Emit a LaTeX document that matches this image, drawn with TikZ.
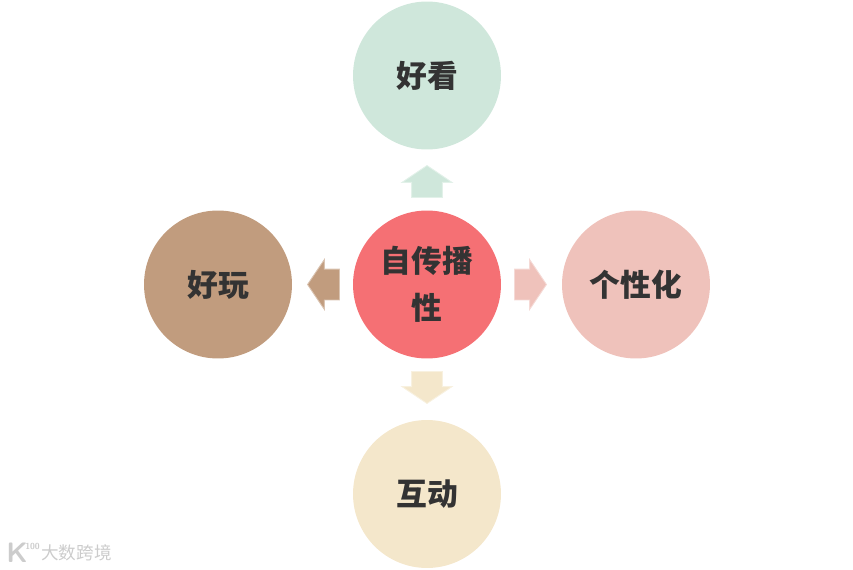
\documentclass[tikz,border=0pt]{standalone}
\usepackage{fontspec}
\usetikzlibrary{shapes.arrows}
\newfontfamily\cjk{Noto Sans CJK SC}
\definecolor{lookgreen}{HTML}{CFE7DB}
\definecolor{corered}{HTML}{F57074}
\definecolor{stylepink}{HTML}{EFC2BB}
\definecolor{playbrown}{HTML}{C19C7E}
\definecolor{talkcream}{HTML}{F4E7CB}
\definecolor{labelgray}{HTML}{333333}
\tikzset{
    topic/.style={circle, inner sep=0pt, minimum size=2.96cm, align=center, text=labelgray,
        font={\cjk\bfseries\fontsize{17.5}{26.7}\selectfont}},
    pointer/.style={single arrow, anchor=tip, minimum height=0.64cm, minimum width=0.98cm,
        single arrow head extend=0.19cm, single arrow tip angle=112, line width=0.5pt},
    flatpointer/.style={pointer, inner xsep=0pt, inner ysep=0.3cm},
    tallpointer/.style={pointer, inner xsep=0.3cm, inner ysep=0pt},
    watermark/.style={inner sep=0pt, text=black!20}
}
\begin{document}
\begin{tikzpicture}[x=0.02cm, y=-0.02cm]
                \useasboundingbox (0,0) rectangle (853,569);
                \node[topic, fill=corered] (spread) at (427,284.5) {自传播\\性};
                \node[topic, fill=lookgreen] (look) at (427,75.5) {好看};
                \node[topic, fill=playbrown] (play) at (218,284.5) {好玩};
                \node[topic, fill=stylepink] (style) at (636,284.5) {个性化};
                \node[topic, fill=talkcream] (talk) at (427,494) {互动};
                \node[tallpointer, shape border rotate=90, fill=lookgreen, draw=lookgreen!60] (uparrow) at (427,165) {};
                \node[flatpointer, shape border rotate=180, fill=playbrown, draw=playbrown!60] (leftarrow) at (307,284.5) {};
                \node[flatpointer, shape border rotate=0, fill=stylepink, draw=stylepink!60] (rightarrow) at (547,284.5) {};
                \node[tallpointer, shape border rotate=270, fill=talkcream, draw=talkcream!60] (downarrow) at (427,404) {};
                \node[watermark, font={\sffamily\bfseries\fontsize{16}{16}\selectfont}] (logok) at (17,553) {K};
                \node[watermark, font={\sffamily\bfseries\fontsize{5}{5}\selectfont}] (logonum) at (32.5,546) {100};
                \node[watermark, font={\cjk\fontsize{10}{10}\selectfont}] (brand) at (76.5,553) {大数跨境};
            \end{tikzpicture}
\end{document}
